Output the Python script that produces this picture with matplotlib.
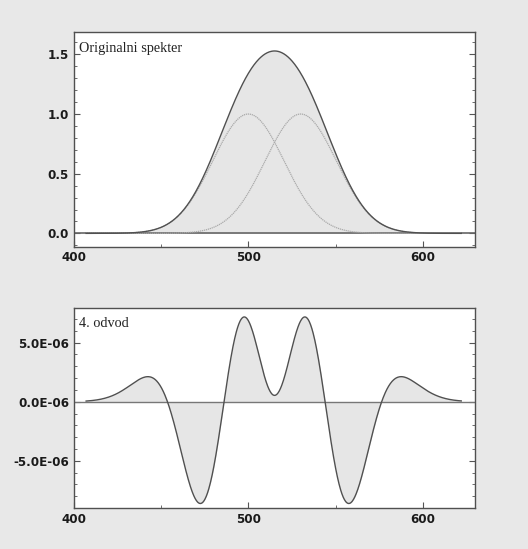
import matplotlib.pyplot as plt
from matplotlib.ticker import MultipleLocator, FormatStrFormatter
import numpy as np

# band parameters
band_centers = [500.0, 530.0]
band_heights = [1.0, 1.0]
band_sigma = 20.45
x_start, x_end = 407.0, 622.0

panel1_title = "Originalni spekter"
panel2_title = "4. odvod"
x_ticks = [400, 500, 600]

wl = np.linspace(x_start, x_end, 900)
components = []
deriv4 = np.zeros_like(wl)
for c, h in zip(band_centers, band_heights):
    u = (wl - c) / band_sigma
    g = h * np.exp(-u**2 / 2)
    components.append(g)
    deriv4 += g * (u**4 - 6 * u**2 + 3) / band_sigma**4
spectrum = np.sum(components, axis=0)

tick_font = ['DejaVu Sans']
label_font = ['Liberation Serif', 'DejaVu Serif']

fig = plt.figure(figsize=(5.28, 5.49), dpi=100, facecolor='#e8e8e8')
ax1 = fig.add_axes([0.140, 0.551, 0.760, 0.390])
ax2 = fig.add_axes([0.140, 0.0747, 0.760, 0.365])

def style(ax):
    for s in ax.spines.values():
        s.set_color('#505050')
        s.set_linewidth(1.0)
    ax.tick_params(which='both', direction='in', top=False, right=True,
                   colors='#555555', labelcolor='#1a1a1a', labelsize=9.5)
    ax.tick_params(which='major', length=4)
    ax.tick_params(which='minor', length=2.5)
    ax.set_xlim(400, 630)
    ax.set_xticks(x_ticks)
    ax.xaxis.set_minor_locator(MultipleLocator(50))
    for lab in ax.get_xticklabels() + ax.get_yticklabels():
        lab.set_family(tick_font)
        lab.set_stretch('condensed')
        lab.set_fontweight('bold')

# top panel
ax1.fill_between(wl, 0, spectrum, color='#e6e6e6', lw=0)
ax1.axhline(0, color='#666666', lw=1.2)
for g in components:
    ax1.plot(wl, g, color='#aaaaaa', lw=0.9, ls=(0, (1, 0.6)))
ax1.plot(wl, spectrum, color='#505050', lw=1.0)
ax1.set_ylim(-0.11, 1.684)
ax1.yaxis.set_major_locator(MultipleLocator(0.5))
ax1.yaxis.set_minor_locator(MultipleLocator(0.1))
ax1.yaxis.set_major_formatter(FormatStrFormatter('%.1f'))
style(ax1)
ax1.text(0.012, 0.955, panel1_title, transform=ax1.transAxes, ha='left', va='top',
         family=label_font, fontsize=10.3, color='#222222')

# bottom panel
ax2.fill_between(wl, 0, deriv4, color='#e6e6e6', lw=0)
ax2.axhline(0, color='#777777', lw=1.0)
ax2.plot(wl, deriv4, color='#505050', lw=1.0)
ax2.set_ylim(-9.0e-6, 7.97e-6)
ax2.set_yticks([-5e-6, 0, 5e-6])
ax2.set_yticklabels(['-5.0E-06', '0.0E-06', '5.0E-06'])
ax2.yaxis.set_minor_locator(MultipleLocator(1e-6))
style(ax2)
ax2.text(0.012, 0.955, panel2_title, transform=ax2.transAxes, ha='left', va='top',
         family=label_font, fontsize=10.3, color='#222222')

fig.savefig('out.png', dpi=100, facecolor=fig.get_facecolor())
